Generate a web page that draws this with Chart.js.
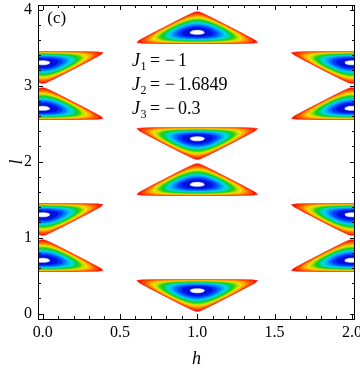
<!DOCTYPE html>
<html><head><meta charset="utf-8">
<script src="https://cdn.jsdelivr.net/npm/chart.js@4/dist/chart.umd.min.js"></script>
<style>html,body{margin:0;padding:0;background:#fff}</style>
</head><body>
<canvas id="c" width="360" height="370"></canvas>
<script>
// ---- data ----
const eyeH = [1, 1, 1, 1, 0, 0, 0, 0, 2, 2, 2, 2];            // h of each island's centre
const eyeL = [0.3, 1.7, 2.3, 3.7, 0.7, 1.3, 2.7, 3.3, 0.7, 1.3, 2.7, 3.3]; // l of centre
const flatOnTop = [1, 0, 1, 0, 0, 1, 0, 1, 0, 1, 0, 1];       // 1 = apex points down
const islandHalfWidth = 0.42;   // in h units
const islandHeight = 0.44;      // in l units
const levels = [0.015, 0.06, 0.12, 0.18, 0.25, 0.32, 0.39, 0.46, 0.53, 0.60, 0.67, 0.74, 0.81, 0.88, 0.975];
const levelColors = ['#ff1400','#ff4a00','#ff8000','#ffb000','#f2e000','#aee000','#48d400','#00d040',
                     '#00d8a0','#00d4e8','#00a8ff','#0070ff','#0038ff','#0010e0','#ffffff'];
const xTicks = [0, 0.5, 1, 1.5, 2];
const yTicks = [0, 1, 2, 3, 4];
const paramNames = ['1', '2', '3'];
const paramValues = ['1', '1.6849', '0.3'];   // all negative
const panelLabel = '(c)';

// ---- contour of the island field (product of distances to triangle sides) ----
function field(u, d) {
  const a = d, b = 1 - u - d, c = 1 + u - d;
  if (a <= 0 || b <= 0 || c <= 0) return 0;
  return a * b * c;
}
const FMAX = 4 / 27;
function contour(i, p) {
  const s = flatOnTop[i] ? 1 : -1;
  const H = islandHeight, W = islandHalfWidth;
  const lf = eyeL[i] + s * H / 3;
  const target = p * FMAX;
  const pts = [];
  const N = 120;
  for (let k = 0; k <= N; k++) {
    const th = 2 * Math.PI * k / N;
    const cu = Math.cos(th), sd = Math.sin(th);
    let lo = 0, hi = 1.5;
    for (let it = 0; it < 40; it++) {
      const r = (lo + hi) / 2;
      if (field(r * cu, 1 / 3 + r * sd) > target) lo = r; else hi = r;
    }
    const u = lo * cu, d = 1 / 3 + lo * sd;
    pts.push({ x: eyeH[i] + u * W, y: lf - s * d * H });
  }
  return pts;
}
const datasets = [];
for (let k = levels.length - 1; k >= 0; k--) {
  for (let i = 0; i < eyeH.length; i++) {
    datasets.push({
      data: contour(i, levels[k]), showLine: true, fill: 'shape',
      backgroundColor: levelColors[k], borderColor: levelColors[k], borderWidth: 0.6,
      pointRadius: 0, tension: 0
    });
  }
}

const SERIF = '"Liberation Serif", "Times New Roman", serif';
const decor = {
  id: 'decor',
  afterDatasetsDraw(chart) {
    const { ctx, chartArea: a, scales: { x, y } } = chart;
    ctx.save();
    ctx.strokeStyle = '#000'; ctx.lineWidth = 1;
    ctx.beginPath();
    for (let n = 0; n <= 20; n++) {
      const v = n / 10; const px = Math.round(x.getPixelForValue(v)) + 0.5;
      const len = n % 5 === 0 ? 5 : 3;
      ctx.moveTo(px, a.bottom); ctx.lineTo(px, a.bottom - len);
      ctx.moveTo(px, a.top); ctx.lineTo(px, a.top + len);
    }
    for (let n = 0; n <= 20; n++) {
      const v = n / 5; const py = Math.round(y.getPixelForValue(v)) + 0.5;
      const len = n % 5 === 0 ? 5 : 3;
      ctx.moveTo(a.left, py); ctx.lineTo(a.left + len, py);
      ctx.moveTo(a.right, py); ctx.lineTo(a.right - len, py);
    }
    ctx.stroke();
    ctx.strokeRect(Math.round(a.left) + 0.5, Math.round(a.top) + 0.5, Math.round(a.right - a.left) - 1, Math.round(a.bottom - a.top));
    ctx.fillStyle = '#000';
    ctx.textBaseline = 'alphabetic';
    ctx.font = '17px ' + SERIF;
    ctx.fillText(panelLabel, x.getPixelForValue(0.03), y.getPixelForValue(3.82));
    const lines = [3.26, 2.945, 2.63];
    for (let j = 0; j < paramNames.length; j++) {
      const x0 = x.getPixelForValue(0.578); const py = y.getPixelForValue(lines[j]);
      ctx.font = 'italic 18px ' + SERIF; ctx.fillText('J', x0, py);
      ctx.font = '12px ' + SERIF; ctx.fillText(paramNames[j], x0 + 8.5, py + 4);
      ctx.font = '18px ' + SERIF;
      ctx.fillText('=', x0 + 18, py);
      ctx.fillText('\u2212', x0 + 33, py);
      ctx.fillText(paramValues[j], x0 + 46, py);
    }
    ctx.restore();
  }
};

new Chart(document.getElementById('c'), {
  type: 'scatter',
  data: { datasets },
  options: {
    responsive: false, animation: false, events: [],
    layout: { padding: { left: 0, top: 5, right: 5, bottom: 0 } },
    plugins: { legend: { display: false }, tooltip: { enabled: false } },
    scales: {
      x: {
        type: 'linear', min: -0.03, max: 2.02,
        afterBuildTicks: s => { s.ticks = xTicks.map(v => ({ value: v })); },
        afterFit: s => { s.height = 51; s.paddingLeft = 0; s.paddingRight = 0; },
        grid: { display: false, drawTicks: false }, border: { display: false },
        ticks: { callback: v => Number(v).toFixed(1), font: { family: SERIF, size: 16 }, color: '#000', padding: 4, maxRotation: 0, autoSkip: false },
        title: { display: true, text: 'h', font: { family: SERIF, size: 18, style: 'italic' }, color: '#000', padding: { top: 0, bottom: 0 } }
      },
      y: {
        type: 'linear', min: -0.072, max: 4.06,
        afterBuildTicks: s => { s.ticks = yTicks.map(v => ({ value: v })); },
        afterFit: s => { s.width = 38; s.paddingTop = 0; s.paddingBottom = 0; },
        grid: { display: false, drawTicks: false }, border: { display: false },
        ticks: { callback: v => String(v), font: { family: SERIF, size: 16 }, color: '#000', padding: 6, autoSkip: false },
        title: { display: true, text: 'l', font: { family: SERIF, size: 18, style: 'italic' }, color: '#000', padding: { top: 6, bottom: 0 } }
      }
    }
  },
  plugins: [decor]
});
</script>
</body></html>
